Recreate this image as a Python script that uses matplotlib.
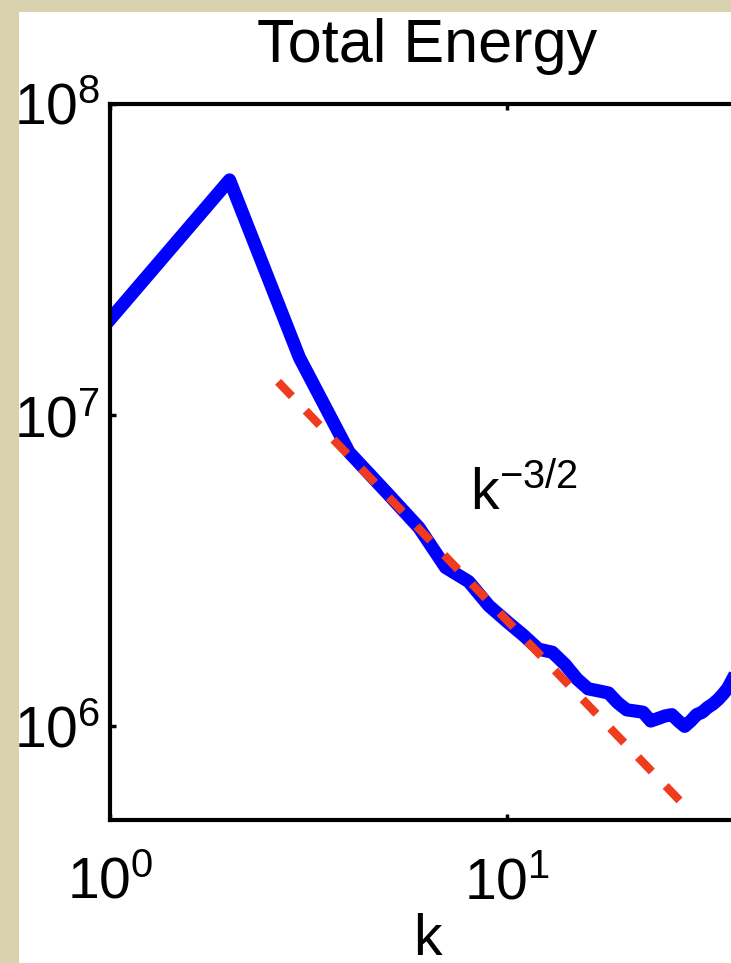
import numpy as np
import matplotlib.pyplot as plt
from matplotlib.patches import Rectangle

plt.rcParams['font.family'] = ['Liberation Sans', 'DejaVu Sans']
plt.rcParams['mathtext.fontset'] = 'custom'
plt.rcParams['mathtext.rm'] = 'Liberation Sans'
plt.rcParams['mathtext.it'] = 'Liberation Sans'
plt.rcParams['mathtext.default'] = 'regular'

# total energy spectrum (k = 1..38)
k = np.arange(1, 39)
energy = [2.03e7, 5.7e7, 1.53e7, 7.6e6, 5.6e6, 4.35e6, 3.24e6, 2.92e6, 2.44e6, 2.17e6,
          1.96e6, 1.77e6, 1.73e6, 1.58e6, 1.42e6, 1.32e6, 1.30e6, 1.28e6, 1.19e6, 1.13e6,
          1.12e6, 1.11e6, 1.04e6, 1.06e6, 1.08e6, 1.09e6, 1.04e6, 1.00e6, 1.04e6, 1.09e6,
          1.11e6, 1.15e6, 1.18e6, 1.22e6, 1.27e6, 1.33e6, 1.42e6, 1.52e6]

# k^-3/2 reference line (end points)
fit_k = [2.65, 28.1]
fit_e = [1.28e7, 5.53e5]

fig = plt.figure(figsize=(7.31, 9.63), dpi=100, facecolor='#d8d3ae')
# white slide area
fig.add_artist(Rectangle((19/731, 0), 1, (963-12)/963, transform=fig.transFigure,
                         facecolor='white', edgecolor='none', zorder=0))

ax = fig.add_axes([110/731, 143/963, 634/731, 716/963])
ax.plot(k, energy, color='#0000ff', lw=9.5, zorder=2)
ax.plot(fit_k, fit_e, color='#f03c1e', lw=6, dashes=(2.4, 2.4), zorder=3)

ax.set_xscale('log')
ax.set_yscale('log')
ax.set_xlim(1, 39.5)
ax.set_ylim(5e5, 1e8)
ax.minorticks_off()

ax.text(8.07, 4.98e6, r'k$^{-3/2}$', fontsize=41, va='baseline')

ax.set_title('Total Energy', fontsize=44, pad=30)
ax.set_xlabel('k', fontsize=41, labelpad=2)

for sp in ax.spines.values():
    sp.set_linewidth(3)
ax.tick_params(which='both', direction='in', length=4, width=2.5,
               top=True, right=True, labelsize=41)
ax.tick_params(axis='x', pad=26)
ax.tick_params(axis='y', pad=7)

fig.savefig('out.png', dpi=100, facecolor=fig.get_facecolor())
